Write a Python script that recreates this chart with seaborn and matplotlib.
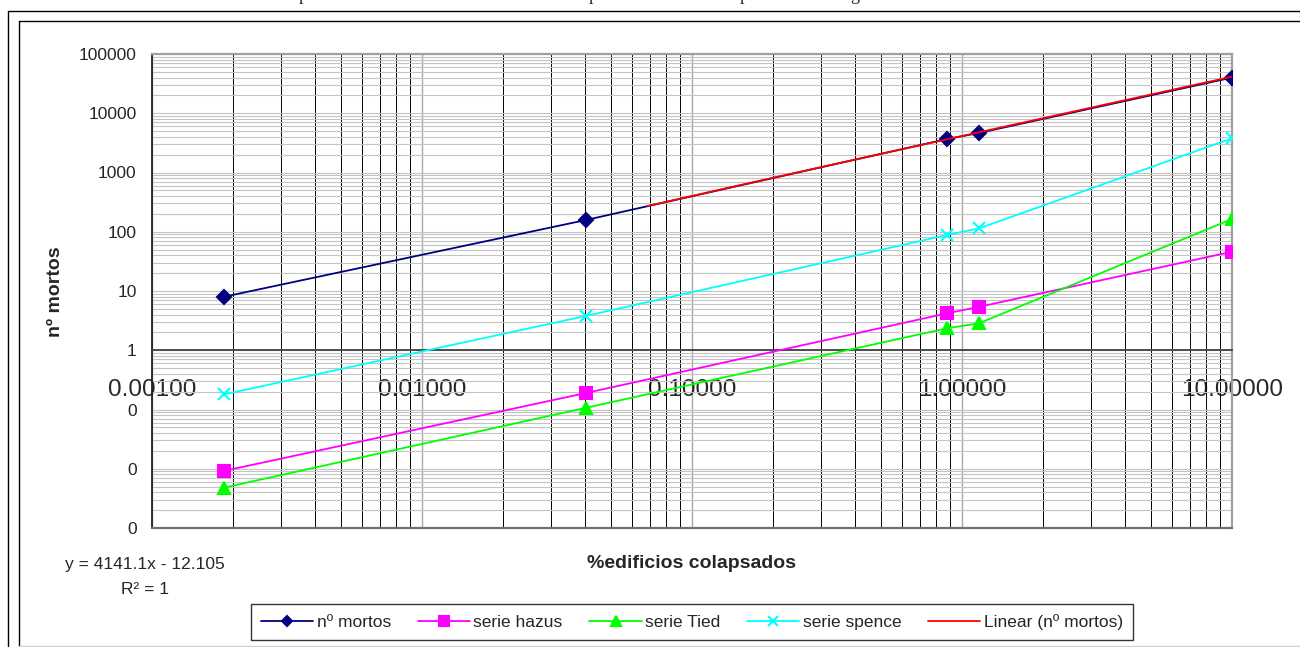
import numpy as np
import pandas as pd
import matplotlib
matplotlib.use('Agg')
import matplotlib.pyplot as plt
import seaborn as sns
from matplotlib.ticker import LogLocator, FuncFormatter, NullFormatter
from matplotlib.lines import Line2D

# data (log-log)
pct_colapsados = [0.00185, 0.0405, 0.88, 1.156, 10.0]
n_mortos = [8.0, 158, 3670, 4650, 40000]
serie_hazus = [0.0092, 0.19, 4.2, 5.4, 46]
serie_tied = [0.0048, 0.107, 2.35, 2.85, 164]
serie_spence = [0.18, 3.8, 88, 114, 3780]

# linear trendline of nº mortos (as printed on the chart)
trend_slope = 4141.1
trend_intercept = -12.105

sns.set_style('white')
plt.rcParams['font.family'] = ['Liberation Sans', 'DejaVu Sans']

fig = plt.figure(figsize=(13, 6.47), dpi=100)
ax = fig.add_axes([152 / 1300, 1 - 528 / 647, 1080 / 1300, 474 / 647])
ax.set_xscale('log')
ax.set_yscale('log')

series = [
    ('nº mortos', n_mortos, '#000080', 'D', 7),
    ('serie hazus', serie_hazus, '#FF00FF', 's', 9),
    ('serie Tied', serie_tied, '#00FF00', '^', 9),
    ('serie spence', serie_spence, '#00FFFF', 'x', 9),
]
for name, vals, col, mk, ms in series:
    df = pd.DataFrame({'x': pct_colapsados, 'y': vals})
    sns.lineplot(data=df, x='x', y='y', ax=ax, color=col, marker=mk, markersize=ms,
                 markeredgecolor=col, markerfacecolor=col, markeredgewidth=1.5,
                 linewidth=1.3, sort=False, label=name, zorder=3)

# trendline sampled like the spreadsheet does (linear steps, positive values only)
tx = np.linspace(pct_colapsados[0], pct_colapsados[-1], 151)
ty = trend_slope * tx + trend_intercept
trend = pd.DataFrame({'x': tx[ty > 0], 'y': ty[ty > 0]})
sns.lineplot(data=trend, x='x', y='y', ax=ax, color='#FF0000', linewidth=1.3,
             sort=False, label='Linear (nº mortos)', zorder=4)

ax.set_xlim(1e-3, 10)
ax.set_ylim(1e-3, 1e5)
ax.xaxis.set_major_locator(LogLocator(base=10, numticks=10))
ax.xaxis.set_minor_locator(LogLocator(base=10, subs=np.arange(2, 10), numticks=100))
ax.yaxis.set_major_locator(LogLocator(base=10, numticks=20))
ax.yaxis.set_minor_locator(LogLocator(base=10, subs=np.arange(2, 10), numticks=100))
ax.xaxis.set_major_formatter(FuncFormatter(lambda v, p: f'{v:.5f}'))
ax.yaxis.set_major_formatter(FuncFormatter(lambda v, p: f'{v:.0f}'))
ax.xaxis.set_minor_formatter(NullFormatter())
ax.yaxis.set_minor_formatter(NullFormatter())

# grid
ax.set_axisbelow(True)
ax.grid(which='both', axis='y', color='#c4c4c4', linewidth=0.8)
ax.grid(which='minor', axis='x', color='black', linewidth=0.7)
ax.grid(which='major', axis='x', color='#a8a8a8', linewidth=1.0)

# axes: x axis crosses at y = 1
ax.spines['bottom'].set_position(('data', 1))
ax.spines['bottom'].set_color('#404040')
ax.spines['bottom'].set_linewidth(1.3)
ax.spines['left'].set_color('#202020')
ax.spines['left'].set_linewidth(1.3)
for s in ['top', 'right']:
    ax.spines[s].set_color('#a0a0a0')
    ax.spines[s].set_linewidth(1.6)
ax.axhline(1e-3, color='#707070', linewidth=1.6, zorder=5, clip_on=False)

ax.tick_params(which='minor', length=0)
ax.tick_params(axis='x', which='major', direction='out', length=4, width=1,
               color='#404040', labelsize=17.5, pad=17)
ax.tick_params(axis='y', which='major', direction='out', length=4, width=1,
               color='#202020', labelsize=12.5, pad=7)
ax.set_xlabel('')
ax.set_ylabel('')
ax.get_legend().remove()

fig.text(55 / 1300, 1 - 292 / 647, 'nº mortos', rotation=90, ha='center', va='center',
         fontsize=14, fontweight='bold')
fig.text(692 / 1300, 1 - 563 / 647, '%edificios colapsados', ha='center', va='center',
         fontsize=14, fontweight='bold')
fig.text(145 / 1300, 1 - 564 / 647, 'y = 4141.1x - 12.105', ha='center', va='center', fontsize=12.5)
fig.text(145 / 1300, 1 - 590 / 647, 'R² = 1', ha='center', va='center', fontsize=12.5)

handles, labels = ax.get_legend_handles_labels()
leg = fig.legend(handles, labels, loc='center', ncol=5,
                 bbox_to_anchor=(692 / 1300, 1 - 622 / 647), fontsize=12.5,
                 frameon=True, fancybox=False, edgecolor='black', handlelength=3.0,
                 handletextpad=0.2, columnspacing=1.55, borderpad=0.55, markerscale=0.8)
leg.get_frame().set_linewidth(1.0)

# page frame lines around the embedded chart
for x in [8, 19]:
    fig.add_artist(Line2D([x / 1300, x / 1300], [0, 1 - (11 if x == 8 else 21) / 647],
                          color='black', linewidth=1.0))
for y in [11, 21]:
    x0 = 8 if y == 11 else 19
    fig.add_artist(Line2D([x0 / 1300, 1], [1 - y / 647, 1 - y / 647], color='black', linewidth=1.0))
fig.add_artist(Line2D([19 / 1300, 1], [1 - 646 / 647, 1 - 646 / 647], color='#d0d0d0', linewidth=1.0))

# clipped caption line above the chart (only descenders visible)
for cx, ch in [(303, 'p'), (593, 'p'), (744, 'p'), (855, 'g')]:
    fig.text(cx / 1300, 1 - 0.3 / 647, ch, ha='center', va='baseline', fontsize=13,
             family=['Liberation Serif', 'DejaVu Serif'])

fig.savefig('out.png', dpi=100)
